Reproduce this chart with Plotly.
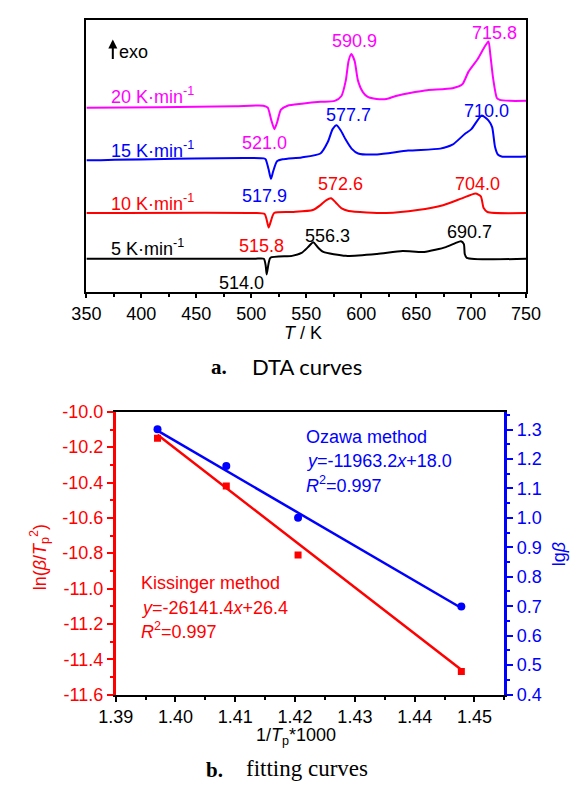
import plotly.graph_objects as go

# ---------------- Panel a: DTA curves (T in K, signal in arbitrary units) ----------------
T_20 = [350, 417, 485, 511, 515, 518, 521, 523.5, 527, 533, 546, 563, 576, 582, 586, 588.5, 591, 594, 597,
        601.5, 606, 614, 623, 631.5, 649, 660, 683, 692, 697.6, 706, 712, 715.8, 717.4, 720, 723.4, 726, 735, 750]
S_20 = [189, 189.5, 190.5, 191, 189, 177, 167, 174, 187, 191, 193, 195, 196, 201, 217, 237, 244, 237, 217,
        205, 200, 198, 198, 201, 205, 207, 209, 213, 226, 239, 251, 257, 244, 219, 199, 197, 196, 196]

T_15 = [350, 511.4, 513.1, 515.7, 517.9, 520, 523.4, 528.5, 545.7, 562.9, 569.7, 574, 577.7, 581.7, 586, 591.2,
        597.2, 614.4, 642.7, 671.9, 683, 694.2, 700.2, 709.7, 715.7, 719.1, 721.7, 724.3, 727.7, 750]
S_15 = [135, 137, 136, 126, 116, 124, 134, 136, 138, 142, 154, 167, 171, 165, 156, 147,
        142, 141, 145, 147, 151, 162, 167, 181, 176, 169, 149, 141, 139, 139]

T_10 = [350, 502.8, 512.2, 514, 515.8, 518.2, 520.8, 537.1, 556, 562.9, 568, 572.6, 576.6, 581.8, 588.6, 623,
        651.3, 674.5, 691.6, 704, 708.8, 711.4, 714.8, 750]
S_10 = [81, 81, 80, 74, 66, 74, 81, 82, 84, 89, 94, 96, 92, 86, 83, 81,
        84, 89, 96, 101, 98, 86, 82, 81]

T_5 = [350, 502.8, 511.4, 513.1, 514, 515.7, 517.4, 537.1, 545.7, 551.7, 556.3, 561.2, 565.5, 586, 614.4,
       637.6, 657.3, 677, 685.6, 690.7, 693.4, 694.2, 696, 750]
S_5 = [34, 34, 34, 27, 18, 29, 35, 37, 40, 46, 51, 45, 41, 37, 39,
       42, 41, 46, 50, 52, 49, 39, 35, 34]

rate_labels = ["20", "15", "10", "5"]
endo_peaks = ["521.0", "517.9", "515.8", "514.0"]
exo1_peaks = ["590.9", "577.7", "572.6", "556.3"]
exo2_peaks = ["715.8", "710.0", "704.0", "690.7"]
curve_colors = ["#FF00FF", "#0000FF", "#FF0000", "#000000"]

# ---------------- Panel b: fitting ----------------
inv_Tp = [1.3970, 1.4085, 1.4205, 1.4478]
ln_beta_T2 = [-10.15, -10.42, -10.81, -11.47]
lg_beta = [1.301, 1.176, 1.000, 0.699]
fit_x = [1.3970, 1.4478]
kissinger_fit = [-10.13, -11.46]
ozawa_fit = [1.296, 0.694]

x_ticks_b = [1.39, 1.40, 1.41, 1.42, 1.43, 1.44, 1.45]
left_ticks = [-10.0, -10.2, -10.4, -10.6, -10.8, -11.0, -11.2, -11.4, -11.6]
left_tick_text = ["-10.0", "-10.2", "-10.4", "-10.6", "-10.8", "-11.0", "-11.2", "-11.4", "-11.6"]
right_ticks = [0.4, 0.5, 0.6, 0.7, 0.8, 0.9, 1.0, 1.1, 1.2, 1.3]

W, H = 585, 795
OFF = 8  # page body margin of the browser
FONT = "Liberation Sans, Arial, sans-serif"
FS = 18


def px(x):
    return (x - OFF) / W


def py(y):
    return 1 - (y - OFF) / H


fig = go.Figure()

for T, S, c in zip([T_20, T_15, T_10, T_5], [S_20, S_15, S_10, S_5], curve_colors):
    fig.add_trace(go.Scatter(x=T, y=S, mode="lines", line=dict(color=c, width=2, shape="spline", smoothing=0.6),
                             xaxis="x", yaxis="y", showlegend=False, hoverinfo="skip"))

# panel b traces
fig.add_trace(go.Scatter(x=fit_x, y=kissinger_fit, mode="lines", line=dict(color="#FF0000", width=2.5),
                         xaxis="x2", yaxis="y2", showlegend=False))
fig.add_trace(go.Scatter(x=inv_Tp, y=ln_beta_T2, mode="markers",
                         marker=dict(symbol="square", size=7, color="#FF0000"),
                         xaxis="x2", yaxis="y2", showlegend=False))
fig.add_trace(go.Scatter(x=fit_x, y=ozawa_fit, mode="lines", line=dict(color="#0000FF", width=2.5),
                         xaxis="x2", yaxis="y3", showlegend=False))
fig.add_trace(go.Scatter(x=inv_Tp, y=lg_beta, mode="markers",
                         marker=dict(symbol="circle", size=8, color="#0000FF"),
                         xaxis="x2", yaxis="y3", showlegend=False))

annotations = []


def ann(text, x, y, color="#000000", size=FS, xanchor="center", yanchor="middle", family=FONT, angle=0):
    annotations.append(dict(text=text, x=px(x), y=py(y), xref="paper", yref="paper", showarrow=False,
                            xanchor=xanchor, yanchor=yanchor, textangle=angle,
                            font=dict(color=color, size=size, family=family)))


# panel a labels: "exo" with an upward arrow
annotations.append(dict(text="", x=px(100), y=py(30), xref="paper", yref="paper", showarrow=True,
                        ax=0, ay=21, axref="pixel", ayref="pixel", arrowhead=2, arrowsize=0.9,
                        arrowwidth=2, arrowcolor="#000000", standoff=0))
ann("exo", 104, 43, xanchor="left")
rate_y = [88, 143, 197, 243]
for lab, yy, c in zip(rate_labels, rate_y, curve_colors):
    ann(lab + " K·min<sup>-1</sup>", 96, yy, color=c, xanchor="left")

endo_pos = [(261, 136), (261, 191), (258, 242), (236, 280)]
exo1_pos = [(356, 32), (350, 108), (341, 178), (328, 232)]
exo2_pos = [(504, 23), (496, 103), (486, 178), (478, 228)]
for labels, pos in [(endo_peaks, endo_pos), (exo1_peaks, exo1_pos), (exo2_peaks, exo2_pos)]:
    for lab, (xx, yy), c in zip(labels, pos, curve_colors):
        ann(lab, xx, yy, color=c)

ann("<i>T</i> / K", 302, 331)
ann("<b>a.</b>", 213, 366, family="Liberation Serif, Times New Roman, serif", size=21)
ann("DTA curves", 306, 365, family="Lato, Liberation Sans, sans-serif", size=22)

# panel b labels
ann("Ozawa method", 303, 438, color="#0000FF", xanchor="left")
ann("<i>y</i>=-11963.2<i>x</i>+18.0", 303, 462, color="#0000FF", xanchor="left")
ann("<i>R</i><sup>2</sup>=0.997", 303, 487, color="#0000FF", xanchor="left")
ann("Kissinger method", 128, 588, color="#FF0000", xanchor="left")
ann("<i>y</i>=-26141.4<i>x</i>+26.4", 128, 613, color="#FF0000", xanchor="left")
ann("<i>R</i><sup>2</sup>=0.997", 128, 636, color="#FF0000", xanchor="left")

ann("ln(<i>β</i>/<i>T</i><sub>p</sub><sup>2</sup>)", 22, 561, color="#FF0000", angle=-90)
ann("lg<i>β</i>", 573, 558, color="#0000FF", angle=-90)
ann("1/<i>T</i><sub>p</sub>*1000", 294, 745)
ann("<b>b.</b>", 208, 779, family="Liberation Serif, Times New Roman, serif", size=21)
ann("fitting curves", 306, 778, family="Liberation Serif, Times New Roman, serif", size=23)

tickfont = dict(family=FONT, size=FS, color="#000000")

fig.update_layout(
    width=W, height=H, autosize=False,
    margin=dict(l=0, r=0, t=0, b=0),
    paper_bgcolor="white", plot_bgcolor="white",
    font=dict(family=FONT, size=FS, color="#000000"),
    annotations=annotations,
    xaxis=dict(domain=[px(72), px(538)], range=[350, 750], tick0=350, dtick=50, anchor="y",
               ticks="outside", ticklen=4, tickwidth=1.5, tickcolor="#000000",
               minor=dict(dtick=25, ticks="outside", ticklen=3, tickwidth=1.5, tickcolor="#000000"),
               showline=True, linewidth=2, linecolor="#000000", mirror=True,
               showgrid=False, zeroline=False, tickfont=tickfont),
    yaxis=dict(domain=[py(289), py(10)], range=[0, 279], anchor="x",
               showticklabels=False, ticks="", showline=True, linewidth=2, linecolor="#000000",
               mirror=True, showgrid=False, zeroline=False),
    xaxis2=dict(domain=[px(103), px(515)], range=[1.39, 1.455], anchor="y2",
                tickvals=x_ticks_b, tickformat=".2f",
                ticks="outside", ticklen=5, tickwidth=1.5, tickcolor="#000000",
                minor=dict(dtick=0.005, tick0=1.39, ticks="outside", ticklen=3, tickwidth=1.5, tickcolor="#000000"),
                showline=True, linewidth=2, linecolor="#000000", mirror=True,
                showgrid=False, zeroline=False, tickfont=tickfont),
    yaxis2=dict(domain=[py(702), py(412)], range=[-11.6, -10.0], anchor="x2",
                tickvals=left_ticks, ticktext=left_tick_text,
                ticks="outside", ticklen=6, tickwidth=2, tickcolor="#FF0000",
                minor=dict(dtick=0.1, tick0=-11.6, ticks="outside", ticklen=3, tickwidth=1.5, tickcolor="#FF0000"),
                showline=True, linewidth=2.5, linecolor="#FF0000",
                showgrid=False, zeroline=False, tickfont=dict(family=FONT, size=FS, color="#FF0000")),
    yaxis3=dict(range=[0.4, 1.36], anchor="x2", overlaying="y2", side="right",
                tickvals=right_ticks, tickformat=".1f",
                ticks="outside", ticklen=6, tickwidth=2, tickcolor="#0000FF",
                minor=dict(dtick=0.05, tick0=0.4, ticks="outside", ticklen=3, tickwidth=1.5, tickcolor="#0000FF"),
                showline=True, linewidth=2.5, linecolor="#0000FF",
                showgrid=False, zeroline=False, tickfont=dict(family=FONT, size=FS, color="#0000FF")),
)

fig.write_html("out.html")
